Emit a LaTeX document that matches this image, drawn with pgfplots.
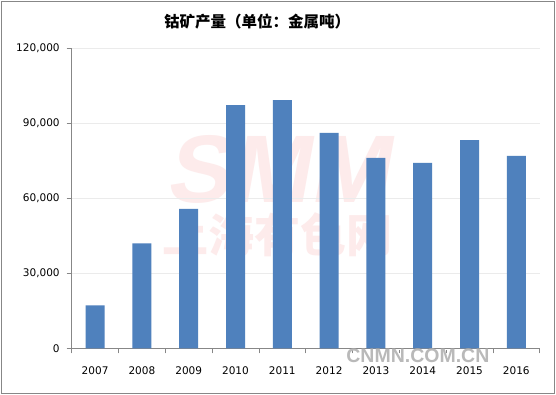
\documentclass[border=0pt]{standalone}
\usepackage{pgfplots}
\pgfplotsset{compat=1.18}
\usepackage{fontspec}
\setmainfont{DejaVu Sans}
\newfontfamily\cjk{Noto Sans CJK SC}
\newfontfamily\lsans{Liberation Sans}
\definecolor{barblue}{HTML}{4F81BD}
\definecolor{wm}{HTML}{FDEBEB}
\definecolor{axgray}{HTML}{878787}
\definecolor{gridc}{HTML}{EBEBEB}
\begin{document}
\begin{tikzpicture}[x=1pt,y=1pt]
\fill[white] (0,0) rectangle (556,395);
\draw[axgray, line width=1pt] (1.5,1.5) rectangle (554.5,393.5);
% watermark
\node[text=wm, inner sep=0, anchor=base, text depth=0pt, xslant=0.18, font=\fontsize{96}{96}\selectfont\lsans\bfseries] at (277.5,192) {SMM};
\node[text=wm, inner sep=0, anchor=base, text height=30pt, text depth=0pt, font=\fontsize{46}{46}\selectfont\cjk\bfseries] at (277.5,142.5) {上海有色网};
\node[font=\fontsize{15.5}{17}\selectfont\cjk\bfseries, inner sep=0] at (257,373) {钴矿产量（单位：金属吨）};
\begin{axis}[
  at={(71.7pt,46.7pt)}, anchor=south west,
  scale only axis, width=468pt, height=300pt,
  xmin=-0.5, xmax=9.5, ymin=0, ymax=120000,
  axis x line*=bottom, axis y line*=left,
  axis line style={axgray, line width=0.8pt},
  ytick={0,30000,60000,90000,120000},
  ymajorgrids, grid style={gridc, line width=0.8pt},
  tick align=outside, major tick length=5pt, minor tick length=5pt,
  tick style={axgray, line width=0.8pt},
  xtick={0,...,9},
  xticklabels={2007,2008,2009,2010,2011,2012,2013,2014,2015,2016},
  major x tick style={draw=none},
  minor xtick={-0.5,0.5,...,9.5},
  scaled y ticks=false,
  /pgf/number format/.cd, fixed, 1000 sep={,}, assume math mode=true,
  /pgfplots/.cd,
  ticklabel style={font=\fontsize{10.5}{12}\selectfont, text=black},
  xticklabel style={yshift=-10pt},
  yticklabel style={xshift=-3.5pt},
]
\addplot[ybar, bar width=19pt, fill=barblue, draw=none] coordinates {
 (0,17200) (1,42000) (2,55800) (3,97300) (4,99300)
 (5,86200) (6,76200) (7,74200) (8,83300) (9,77000)
};
\end{axis}
\node[text=gray!55, draw=white, line width=0.3pt, inner sep=0, anchor=base, font=\fontsize{19.5}{20}\selectfont\lsans\bfseries] at (417.9,32.3) {CNMN.COM.CN};
\end{tikzpicture}
\end{document}
